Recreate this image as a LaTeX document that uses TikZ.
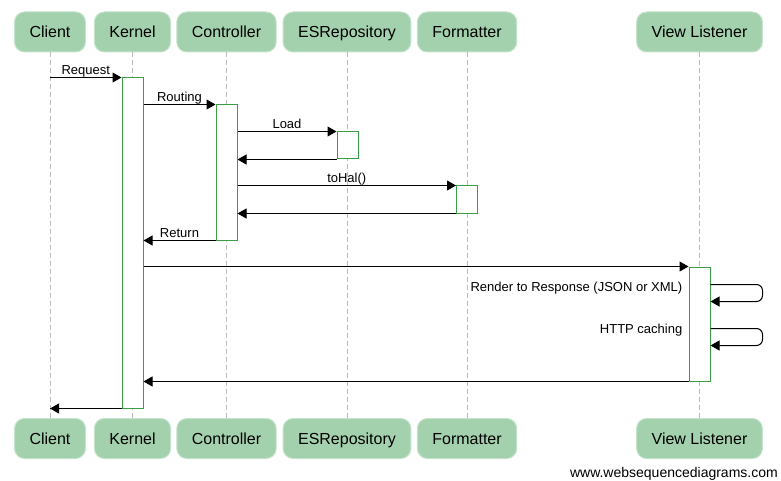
\documentclass[tikz,border=0pt]{standalone}
\usepackage{fontspec}
\setmainfont{Liberation Sans}
\usetikzlibrary{arrows.meta}
\definecolor{headfill}{HTML}{A3D1AD}
\definecolor{headline}{HTML}{C4E3CA}
\definecolor{actline}{HTML}{3A9E46}
\definecolor{lifegray}{HTML}{BDBDBD}
\def\toprow{32}
\def\botrow{438.5}
\tikzset{
  actor/.style={rectangle, rounded corners=10pt, fill=headfill, draw=headline, line width=1pt,
    minimum height=40pt, inner xsep=15pt, text height=11.5pt, text depth=0pt,
    font=\fontsize{16}{19}\selectfont},
  lifeline/.style={draw=lifegray, line width=1pt, dash pattern=on 5pt off 3pt},
  act/.style={rectangle, draw=actline, fill=white, line width=1pt, minimum width=21pt, inner sep=0pt},
  msg/.style={line width=1pt, -{Triangle[length=9pt,width=10pt]}},
  lbl/.style={anchor=base, yshift=3pt, inner sep=0pt, font=\fontsize{13}{15}\selectfont},
  note/.style={anchor=base east, inner sep=0pt, font=\fontsize{13}{15}\selectfont},
}
\begin{document}
\begin{tikzpicture}[x=1pt, y=-1pt]
    \useasboundingbox (0,0) rectangle (781,481);
    % actors, top and bottom
    \node[actor] (client) at (50,\toprow) {Client};
    \node[actor] (kernel) at (132.5,\toprow) {Kernel};
    \node[actor] (controller) at (226.5,\toprow) {Controller};
    \node[actor] (repo) at (347,\toprow) {ESRepository};
    \node[actor] (formatter) at (467,\toprow) {Formatter};
    \node[actor] (view) at (699.5,\toprow) {View Listener};
    \node[actor] (client2) at (50,\botrow) {Client};
    \node[actor] (kernel2) at (132.5,\botrow) {Kernel};
    \node[actor] (controller2) at (226.5,\botrow) {Controller};
    \node[actor] (repo2) at (347,\botrow) {ESRepository};
    \node[actor] (formatter2) at (467,\botrow) {Formatter};
    \node[actor] (view2) at (699.5,\botrow) {View Listener};
    \foreach \n in {client,kernel,controller,repo,formatter,view}
      \draw[lifeline] (\n.south) -- (\n2.north);
    % activations
    \node[act, minimum height=330pt] (kact) at (132.5,243) {};
    \node[act, minimum height=135pt] (cact) at (226.5,172.5) {};
    \node[act, minimum height=27pt] (eact) at (347.5,145.5) {};
    \node[act, minimum height=27pt] (fact) at (467,199.5) {};
    \node[act, minimum height=114pt] (vact) at (699.5,324) {};
    % messages
    \draw[msg] (client |- kact.north) -- node[lbl] (request) {Request} (kact.north west);
    \draw[msg] (kact.east |- cact.north) -- node[lbl] (routing) {Routing} (cact.north west);
    \draw[msg] (cact.east |- eact.north) -- node[lbl] (load) {Load} (eact.north west);
    \draw[msg] (eact.south west) -- (cact.east |- eact.south);
    \draw[msg] (cact.east |- fact.north) -- node[lbl] (tohal) {toHal()} (fact.north west);
    \draw[msg] (fact.south west) -- (cact.east |- fact.south);
    \draw[msg] (cact.south west) -- node[lbl] (return) {Return} (kact.east |- cact.south);
    \draw[msg] (kact.east |- vact.north) -- (vact.north west);
    \draw[msg, rounded corners=6pt] (vact.north east) ++(0,18) -- ++(52,0) -- ++(0,17) -- ++(-52,0);
    \node[note] (render) at ([shift={(-6,25)}]vact.north west) {Render to Response (JSON or XML)};
    \draw[msg, rounded corners=6pt] (vact.north east) ++(0,62) -- ++(52,0) -- ++(0,17) -- ++(-52,0);
    \node[note] (caching) at ([shift={(-6,67)}]vact.north west) {HTTP caching};
    \draw[msg] (vact.south west) -- (kact.east |- vact.south);
    \draw[msg] (kact.south west) -- (client |- kact.south);
    \node[note, font=\fontsize{14}{16}\selectfont] (site) at (778,477) {www.websequencediagrams.com};
\end{tikzpicture}
\end{document}
